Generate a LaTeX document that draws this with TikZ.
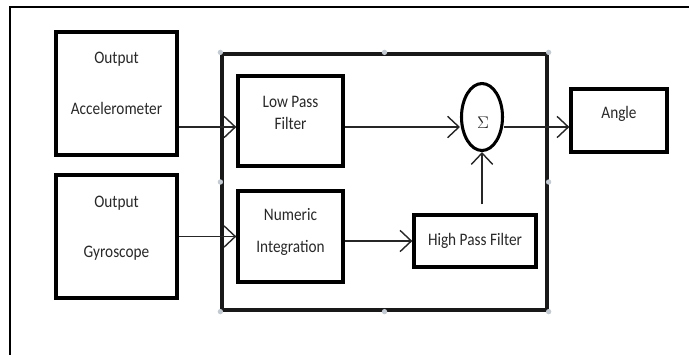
\documentclass[tikz,border=0pt]{standalone}
\usepackage{fontspec}
\setmainfont{Carlito}[FakeStretch=0.87]
\usetikzlibrary{arrows.meta,shapes.geometric}
\definecolor{handlegray}{RGB}{196,202,210}
\definecolor{inkgray}{RGB}{40,40,40}

\begin{document}
\begin{tikzpicture}[x=0.3mm,y=-0.3mm,>={Straight Barb[length=3.4mm,width=6.4mm]}]
  \tikzset{
    blk/.style={draw=black,line width=2.8pt,inner sep=0pt},
    txt/.style={anchor=base,inner sep=0pt,text=inkgray,font=\fontsize{15}{17}\selectfont},
    sig/.style={ellipse,draw=black,line width=2.6pt,inner sep=0pt,minimum width=41*0.3mm,minimum height=67*0.3mm},
    arr/.style={->,line width=1.2pt,draw=black!85},
    handle/.style={circle,fill=handlegray,inner sep=0pt,minimum size=1.6mm},
  }
  \useasboundingbox (0,0) rectangle (689,354);
  \draw[line width=1.4pt] (10,362) -- (10,7) -- (695,7);

  % filter block
  \node[blk,draw=black!90,minimum width=325*0.3mm,minimum height=256*0.3mm] (filt) at (384.5,182) {};
  \foreach \a in {north west,north,north east,west,east,south west,south,south east}
    \node[handle] at (filt.\a) {};

  \node[blk,minimum width=121*0.3mm,minimum height=123*0.3mm] (acc) at (116.5,93.5) {};
  \node[blk,minimum width=121*0.3mm,minimum height=123*0.3mm] (gyr) at (116.5,236.5) {};
  \node[blk,minimum width=105*0.3mm,minimum height=90*0.3mm] (lpf) at (290.5,121) {};
  \node[blk,minimum width=105*0.3mm,minimum height=91*0.3mm] (num) at (290.5,236.5) {};
  \node[blk,minimum width=122*0.3mm,minimum height=52*0.3mm] (hpf) at (475,241) {};
  \node[blk,minimum width=96*0.3mm,minimum height=63*0.3mm] (ang) at (619,120.5) {};
  \node[sig] (sum) at (482,117) {};

  \node[txt] (acc1) at (116.5,63) {Output};
  \node[txt] (acc2) at (116.5,114) {Accelerometer};
  \node[txt] (gyr1) at (116.5,207) {Output};
  \node[txt] (gyr2) at (116.5,257) {Gyroscope};
  \node[txt] (lpf1) at (290.5,107) {Low Pass};
  \node[txt] (lpf2) at (290.5,129) {Filter};
  \node[txt] (num1) at (290.5,220) {Numeric};
  \node[txt] (num2) at (290.5,252) {Integration};
  \node[txt] (hpf1) at (475,245) {High Pass Filter};
  \node[txt] (ang1) at (619,118) {Angle};
  \node[txt,font=\fontsize{14}{16}\selectfont] (sum1) at (483,128) {$\Sigma$};

  \coordinate (r1) at (0,127);
  \draw[arr] (acc.east |- r1) -- (lpf.west |- r1);
  \draw[arr] (lpf.east |- r1) -- (sum.west |- r1);
  \draw[arr] (sum.east |- r1) -- (ang.west |- r1);
  \draw[arr] (gyr.east) -- (num.west |- gyr.east);
  \draw[arr] (num.east |- hpf.west) -- (hpf.west);
  \draw[arr,shorten <=9*0.3mm] (hpf.north -| sum.south) -- (sum.south);
\end{tikzpicture}
\end{document}
